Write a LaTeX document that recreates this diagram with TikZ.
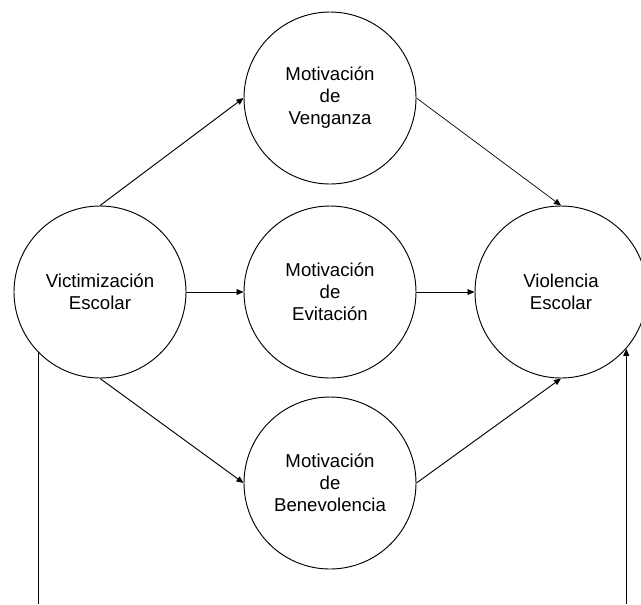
\documentclass[tikz,border=0pt]{standalone}
\usepackage{fontspec}
\setmainfont{Liberation Sans}
\usetikzlibrary{arrows.meta, positioning}
\tikzset{
  constructo/.style={circle, draw=black, line width=0.8pt, minimum size=5.16cm, inner sep=0pt, align=center, font=\fontsize{15.9}{18.8}\selectfont},
  arrow/.style={line width=0.8pt, -{Triangle[length=6pt,width=5pt]}}
}
\begin{document}
\begin{tikzpicture}

    % Marco de la figura
    \useasboundingbox (0,0) rectangle (19.23,-18.12);

    % Variables (circulos)
    \node[constructo] (vict) at (3.0, -8.76) {Victimización\\Escolar};
    \node[constructo] (veng) at (9.9, -2.94) {Motivación\\de\\Venganza};
    \node[constructo] (evit) at (9.9, -8.76) {Motivación\\de\\Evitación};
    \node[constructo] (bene) at (9.9, -14.49) {Motivación\\de\\Benevolencia};
    \node[constructo] (viol) at (16.83, -8.76) {Violencia\\Escolar};

    % Efectos hacia las motivaciones
    \draw[arrow] (vict.north) -- (veng.west);
    \draw[arrow] (vict.east) -- (evit.west);
    \draw[arrow] (vict.south) -- (bene.west);

    % Efectos hacia la violencia
    \draw[arrow, line width=0.6pt] (veng.east) -- (viol.north);
    \draw[arrow] (evit.east) -- (viol.west);
    \draw[arrow] (bene.east) -- (viol.south);

    % Efecto directo (lineas inferiores)
    \coordinate (izq) at (vict.225 |- 0,-18.12);
    \coordinate (der) at (viol.319 |- 0,-18.12);
    \draw[line width=0.8pt] (vict.225) -- (izq);
    \draw[arrow] (der) -- (viol.319);

\end{tikzpicture}
\end{document}
